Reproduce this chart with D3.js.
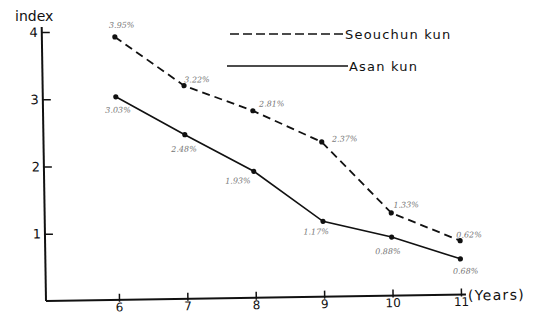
<!DOCTYPE html>
<html>
<head>
<meta charset="utf-8">
<script src="https://cdn.jsdelivr.net/npm/d3@7"></script>
<style>
  html, body { margin: 0; padding: 0; background: #fff; }
  svg { display: block; }
</style>
</head>
<body>
<div id="chart"></div>
<script>
// values
const years = [6, 7, 8, 9, 10, 11]
const seouchunIndex = [3.91, 3.17, 2.78, 2.30, 1.23, 0.80]
const seouchunLabels = ["3.95%", "3.22%", "2.81%", "2.37%", "1.33%", "0.62%"]
const asanIndex = [3.02, 2.44, 1.88, 1.12, 0.87, 0.53]
const asanLabels = ["3.03%", "2.48%", "1.93%", "1.17%", "0.88%", "0.68%"]
const yTicks = [1, 2, 3, 4]
const seriesNames = ["Seouchun kun", "Asan kun"]

const width = 539
const height = 313

// label nudges (px) so the small % labels sit where they do in the scan
const seouchunNudge = [[7, -12], [13, -6], [19, -7], [23, -3], [15, -8], [9, -6]]
const asanNudge = [[2, 13], [-1, 14], [-16, 9], [-7, 10], [-4, 14], [5, 12]]

const svg = d3.select("#chart")
  .append("svg")
    .attr("width", width)
    .attr("height", height)

const x = d3.scaleLinear()
  .domain([6, 11])
  .range([119, 461])

const y = d3.scaleLinear()
  .domain([0, 4])
  .range([301, 32])

// the scan is a little skewed, so the whole plot is turned slightly
const plot = svg.append("g")
  .attr("transform", "rotate(-0.9,46,301)")

// axes
plot.append("line")
  .attr("x1", 46).attr("x2", 466)
  .attr("y1", y(0)).attr("y2", y(0))
  .attr("stroke", "#111").attr("stroke-width", 2)

plot.append("line")
  .attr("x1", 46).attr("x2", 46)
  .attr("y1", y(0)).attr("y2", y(4) - 5)
  .attr("stroke", "#111").attr("stroke-width", 2)

let yAxis = plot.append("g")
  .attr("transform", "translate(46,0)")
  .call(d3.axisLeft(y).tickValues(yTicks).tickSize(-8).tickPadding(4).tickFormat(d3.format("d")))
yAxis.select(".domain").remove()
yAxis.selectAll("line").attr("stroke", "#111").attr("stroke-width", 1.5)
yAxis.selectAll("text")
  .attr("font-family", "'DejaVu Sans', sans-serif")
  .attr("font-size", "13px")
  .attr("fill", "#111")

let xAxis = plot.append("g")
  .attr("transform", "translate(0," + (y(0) - 6) + ")")
  .call(d3.axisBottom(x).tickValues(years).tickSize(8).tickPadding(1).tickFormat(d3.format("d")))
xAxis.select(".domain").remove()
xAxis.selectAll("line").attr("stroke", "#111").attr("stroke-width", 1.5)
xAxis.selectAll("text")
  .attr("font-family", "'DejaVu Sans', sans-serif")
  .attr("font-size", "12px")
  .attr("fill", "#111")

plot.append("text")
  .attr("x", 468)
  .attr("y", y(0) + 6)
  .attr("font-family", "'DejaVu Sans', sans-serif")
  .attr("font-size", "14px")
  .attr("letter-spacing", "1.3px")
  .attr("fill", "#111")
  .text("(Years)")

svg.append("text")
  .attr("x", 15)
  .attr("y", 21)
  .attr("font-family", "'DejaVu Sans', sans-serif")
  .attr("font-size", "14px")
  .attr("fill", "#111")
  .text("index")

// lines
const line = d3.line()
  .x(d => x(d.year))
  .y(d => y(d.value))

const seouchunData = years.map((yr, i) => ({year: yr, value: seouchunIndex[i], label: seouchunLabels[i], nudge: seouchunNudge[i]}))
const asanData = years.map((yr, i) => ({year: yr, value: asanIndex[i], label: asanLabels[i], nudge: asanNudge[i]}))

plot.append("path")
  .datum(seouchunData)
  .attr("d", line)
  .attr("fill", "none")
  .attr("stroke", "#111")
  .attr("stroke-width", 1.8)
  .attr("stroke-dasharray", "8,5")

plot.append("path")
  .datum(asanData)
  .attr("d", line)
  .attr("fill", "none")
  .attr("stroke", "#111")
  .attr("stroke-width", 1.6)

;[seouchunData, asanData].forEach(function (series) {
  plot.selectAll(null)
    .data(series)
    .enter()
    .append("circle")
      .attr("cx", d => x(d.year))
      .attr("cy", d => y(d.value))
      .attr("r", 2.6)
      .attr("fill", "#111")

  plot.selectAll(null)
    .data(series)
    .enter()
    .append("text")
      .attr("x", d => x(d.year) + d.nudge[0])
      .attr("y", d => y(d.value) + d.nudge[1] + 3)
      .attr("text-anchor", "middle")
      .attr("font-family", "'DejaVu Serif', serif")
      .attr("font-style", "italic")
      .attr("font-size", "8px")
      .attr("fill", "#777")
      .text(d => d.label)
})

// legend
const legend = svg.append("g")

legend.append("line")
  .attr("x1", 230).attr("x2", 344)
  .attr("y1", 34).attr("y2", 34)
  .attr("stroke", "#111").attr("stroke-width", 1.5)
  .attr("stroke-dasharray", "9,4")

legend.append("line")
  .attr("x1", 227).attr("x2", 348)
  .attr("y1", 66).attr("y2", 66)
  .attr("stroke", "#111").attr("stroke-width", 1.5)

legend.selectAll("text")
  .data(seriesNames)
  .enter()
  .append("text")
    .attr("x", (d, i) => i === 0 ? 345 : 349)
    .attr("y", (d, i) => i === 0 ? 39 : 71)
    .attr("font-family", "'DejaVu Sans', sans-serif")
    .attr("font-size", "13px")
    .attr("letter-spacing", "1.2px")
    .attr("fill", "#111")
    .text(d => d)
</script>
</body>
</html>
